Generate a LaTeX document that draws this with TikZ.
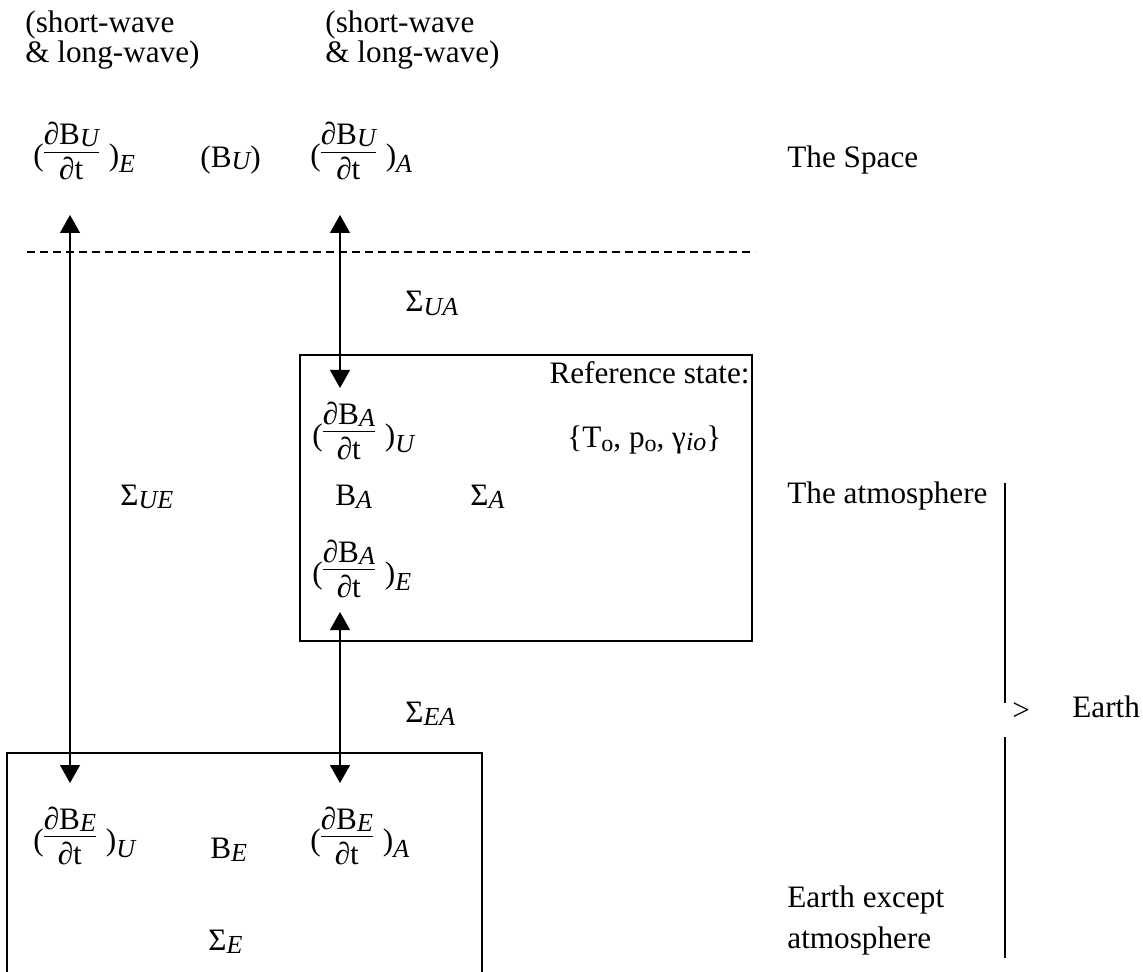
\documentclass[tikz,border=0pt]{standalone}
\usepackage{fontspec}
\setmainfont{Liberation Serif}
\usetikzlibrary{arrows.meta}
\newsavebox\frnum
\newsavebox\frden
\newlength\frw
\newcommand\frc[2]{%
  \sbox\frnum{#1}\sbox\frden{#2}%
  \ifdim\wd\frnum>\wd\frden \setlength\frw{\wd\frnum}\else\setlength\frw{\wd\frden}\fi
  \rlap{\raisebox{10.5pt}{\hbox to\frw{\hss\usebox\frnum\hss}}}%
  \rlap{\raisebox{6.3pt}{\rule{\frw}{0.5pt}}}%
  \raisebox{-7pt}{\hbox to\frw{\hss\usebox\frden\hss}}}
\newcommand\isub[1]{\raisebox{-3.5pt}{\fontsize{13}{15}\selectfont\itshape #1}}
\newcommand\bsub[1]{\raisebox{-1pt}{\fontsize{13}{15}\selectfont\itshape #1}}
\newcommand\ssub[1]{\raisebox{-1.8pt}{\fontsize{13}{15}\selectfont\itshape #1}}
\newcommand\osub[1]{\raisebox{-2pt}{\fontsize{12}{14}\selectfont #1}}
\begin{document}
\begin{tikzpicture}[x=0.5pt,y=-0.5pt,
  every node/.style={inner sep=0pt, font=\fontsize{15.6}{18}\selectfont},
  lbl/.style={anchor=base west},
  arr/.style={line width=0.6pt, {Triangle[width=10pt,length=9pt]}-{Triangle[width=10pt,length=9pt]}},
  frame/.style={line width=0.75pt},
  sep/.style={line width=0.6pt, dash pattern=on 4pt off 2.5pt}]
\useasboundingbox (0,0) rectangle (1143,972);
% top labels
\node[lbl] (sw1) at (25,33) {(short-wave};
\node[lbl] (lw1) at (25,63) {\& long-wave)};
\node[lbl] (sw2) at (325,33) {(short-wave};
\node[lbl] (lw2) at (325,63) {\& long-wave)};
% space row
\node[lbl] (fUE) at (33,166) {(\frc{∂B\bsub{U}}{∂t}\hspace{5pt})\isub{E}};
\node[lbl] (BU) at (200,168) {(B\bsub{U})};
\node[lbl] (fUA) at (310,166) {(\frc{∂B\bsub{U}}{∂t}\hspace{5pt})\isub{A}};
\node[lbl] (space) at (787,168) {The Space};
% dashed boundary
\coordinate (dl) at (27,252);
\coordinate (dr) at (755,252);
\draw[sep] (dl) -- (dr);
\node[lbl] (sUA) at (405,312) {Σ\ssub{UA}};
% atmosphere box
\draw[frame] (300,355) rectangle (752,641);
\node[anchor=base east] (ref) at (750,384) {Reference state:};
\node[lbl] (fAU) at (312,445) {(\frc{∂B\bsub{A}}{∂t}\hspace{5pt})\isub{U}};
\node[lbl] (refst) at (567,447) {\{T\osub{o}, p\osub{o}, γ\ssub{io}\}};
\node[lbl] (BA) at (335,505) {B\ssub{A}};
\node[lbl] (sA) at (470,505) {Σ\ssub{A}};
\node[lbl] (fAE) at (312,583) {(\frc{∂B\bsub{A}}{∂t}\hspace{5pt})\isub{E}};
\node[lbl] (sUE) at (120,505) {Σ\ssub{UE}};
\node[lbl] (atm) at (787,503) {The atmosphere};
\node[lbl] (sEA) at (405,722) {Σ\ssub{EA}};
% earth box
\draw[frame] (7,990) -- (7,753) -- (482,753) -- (482,990);
\node[lbl] (fEU) at (33,850) {(\frc{∂B\bsub{E}}{∂t}\hspace{5pt})\isub{U}};
\node[lbl] (BE) at (210,858) {B\ssub{E}};
\node[lbl] (fEA) at (310,850) {(\frc{∂B\bsub{E}}{∂t}\hspace{5pt})\isub{A}};
\node[lbl] (sE) at (208,950) {Σ\ssub{E}};
\node[lbl] (exc1) at (787,907) {Earth except};
\node[lbl] (exc2) at (787,948) {atmosphere};
% arrows
\coordinate (a1t) at (70,215);
\coordinate (a1b) at (70,783);
\coordinate (a2t) at (340,215);
\coordinate (a2b) at (340,388);
\coordinate (a3t) at (340,612);
\coordinate (a3b) at (340,783);
\draw[arr] (a1t) -- (a1b);
\draw[arr] (a2t) -- (a2b);
\draw[arr] (a3t) -- (a3b);
% earth bracket
\coordinate (v1t) at (1005,483);
\coordinate (v1b) at (1005,703);
\coordinate (v2t) at (1005,737);
\coordinate (v2b) at (1005,958);
\draw[line width=0.6pt] (v1t) -- (v1b);
\draw[line width=0.6pt] (v2t) -- (v2b);
\node[lbl] (gt) at (1012,720) {>};
\node[lbl] (earth) at (1072,717) {Earth};
\end{tikzpicture}
\end{document}
